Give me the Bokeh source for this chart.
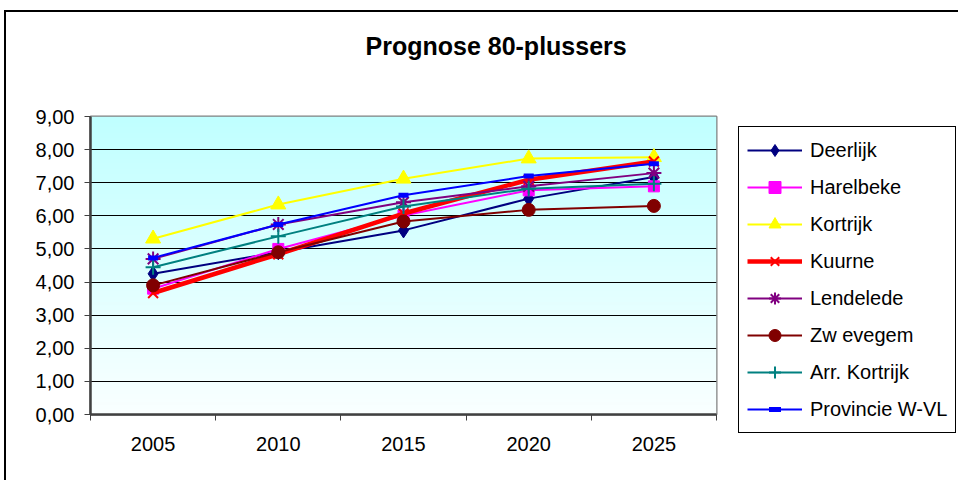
import numpy as np
from bokeh.plotting import figure
from bokeh.models import (FixedTicker, CustomJSTickFormatter, Legend, LegendItem, Title)
from bokeh.embed import file_html
from bokeh.resources import INLINE

years = ["2005", "2010", "2015", "2020", "2025"]
deerlijk = [4.25, 4.90, 5.56, 6.52, 7.17]
harelbeke = [3.80, 5.00, 6.01, 6.77, 6.89]
kortrijk = [5.31, 6.34, 7.12, 7.73, 7.77]
kuurne = [3.67, 4.84, 6.07, 7.09, 7.64]
lendelede = [4.70, 5.74, 6.41, 6.89, 7.29]
zwevegem = [3.90, 4.90, 5.83, 6.18, 6.30]
arr_kortrijk = [4.45, 5.38, 6.28, 6.82, 6.97]
provincie = [4.73, 5.74, 6.62, 7.20, 7.57]

names = ["Deerlijk", "Harelbeke", "Kortrijk", "Kuurne", "Lendelede",
         "Zw evegem", "Arr. Kortrijk", "Provincie W-VL"]
series = [deerlijk, harelbeke, kortrijk, kuurne, lendelede, zwevegem, arr_kortrijk, provincie]
colors = ["#000080", "#FF00FF", "#FFFF00", "#FF0000", "#800080", "#800000", "#008080", "#0000FF"]
markers = ["diamond", "square", "triangle", "x", "asterisk", "circle", "cross", "dash"]
msizes = [15, 11, 15, 14, 15, 13, 15, 10]
mlw = [1, 1, 1, 2, 2, 1, 2, 5]
lws = [2, 2, 2, 4.5, 2, 2, 2, 2]

xpos = [i + 0.5 for i in range(len(years))]
FONT = "Liberation Sans"

p = figure(frame_width=626, frame_height=298, x_range=(0, 5), y_range=(0, 9),
           output_backend="svg", toolbar_location=None,
           min_border_left=84, min_border_right=242, min_border_top=104, min_border_bottom=66)
p.background_fill_color = "white"
p.border_fill_color = "white"
p.outline_line_color = "#808080"
p.outline_line_width = 2

# real title (outer) and an empty spacer title next to the frame
p.title.text = "Prognose 80-plussers"
p.title.align = "left"
p.title.offset = 275
p.title.standoff = 0
p.title.text_font = FONT
p.title.text_font_style = "bold"
p.title.text_font_size = "25px"
p.title.text_color = "black"
p.add_layout(Title(text=" ", text_font_size="10px", standoff=44), "above")

# gradient background
n = 200
top = np.array([192, 255, 255], dtype=float)
bot = np.array([250, 255, 255], dtype=float)
t = np.linspace(0, 1, n)[:, None]
rgb = (bot * (1 - t) + top * t).astype(np.uint32)
img = np.empty((n, 1), dtype=np.uint32)
img[:, 0] = (255 << 24) | (rgb[:, 2] << 16) | (rgb[:, 1] << 8) | rgb[:, 0]
p.image_rgba(image=[img], x=0, y=0, dw=5, dh=9, level="image")

# grid
p.xgrid.visible = False
p.ygrid.ticker = FixedTicker(ticks=[1, 2, 3, 4, 5, 6, 7, 8])
p.ygrid.grid_line_color = "black"
p.ygrid.grid_line_width = 1

# axes
ya = p.yaxis[0]
ya.ticker = FixedTicker(ticks=list(range(10)))
ya.formatter = CustomJSTickFormatter(code="return tick.toFixed(2).replace('.', ',')")
ya.major_tick_in = 0
ya.major_tick_out = 6
ya.minor_tick_out = 0
ya.minor_tick_in = 0
ya.axis_line_color = "#404040"
ya.axis_line_width = 2.5
ya.major_tick_line_color = "#404040"
ya.major_label_standoff = 10
ya.major_label_text_font = FONT
ya.major_label_text_font_size = "20px"
ya.major_label_text_color = "black"

xa = p.xaxis[0]
xa.ticker = FixedTicker(ticks=xpos, minor_ticks=[0, 1, 2, 3, 4, 5])
xa.formatter = CustomJSTickFormatter(args=dict(years=years),
                                     code="return years[Math.floor(tick)]")
xa.major_tick_in = 0
xa.major_tick_out = 0
xa.minor_tick_in = 0
xa.minor_tick_out = 6
xa.minor_tick_line_color = "#404040"
xa.axis_line_color = "#404040"
xa.axis_line_width = 2.5
xa.major_label_standoff = 16
xa.major_label_text_font = FONT
xa.major_label_text_font_size = "20px"
xa.major_label_text_color = "black"

items = []
for name, vals, c, m, ms, mw, lw in zip(names, series, colors, markers, msizes, mlw, lws):
    lr = p.line(xpos, vals, line_color=c, line_width=lw)
    sr = p.scatter(xpos, vals, marker=m, size=ms, fill_color=c, line_color=c, line_width=mw)
    items.append(LegendItem(label=name, renderers=[lr, sr]))

legend = Legend(items=items, location=(22, -19), ncols=1)
legend.border_line_color = "black"
legend.border_line_alpha = 1
legend.border_line_width = 1
legend.background_fill_color = "white"
legend.background_fill_alpha = 1
legend.label_text_font = FONT
legend.label_text_font_size = "20px"
legend.label_text_color = "black"
legend.glyph_width = 55
legend.glyph_height = 30
legend.label_height = 20
legend.spacing = 7
legend.padding = 8
legend.margin = 0
legend.label_standoff = 8
p.add_layout(legend, "right")

template = """
{% block postamble %}
<style>
  html { height: auto; overflow: hidden; }
  body {
    height: auto;
    margin: 10px 0 0 4px !important;
    border-left: 2px solid black;
    border-top: 2px solid black;
    box-sizing: border-box;
    overflow: hidden;
  }
</style>
{% endblock %}
"""

open("out.html", "w").write(file_html(p, INLINE, template=template))
